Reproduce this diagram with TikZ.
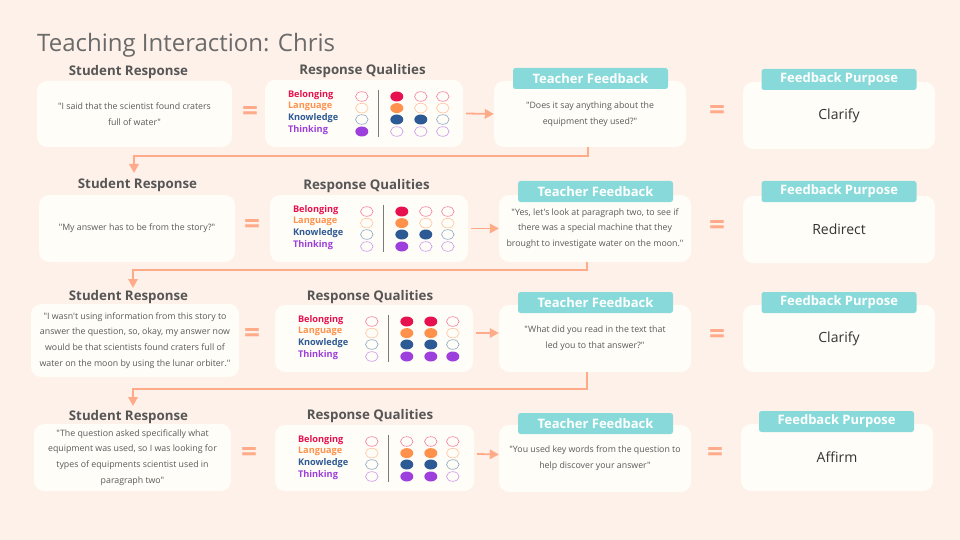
\documentclass[tikz,border=0pt]{standalone}
\usepackage{fontspec}
\setmainfont{Open Sans}[Ligatures=TeXOff]
\usetikzlibrary{arrows.meta,calc}
\definecolor{bgc}{HTML}{FEF1E9}
\definecolor{cardc}{HTML}{FFFDF7}
\definecolor{tealc}{HTML}{88DADA}
\definecolor{salmon}{HTML}{FFAB8A}
\definecolor{hdrc}{HTML}{565656}
\definecolor{txtc}{HTML}{5A5A5A}
\definecolor{titlec}{HTML}{6A6A6A}
\definecolor{darkc}{HTML}{333333}
\definecolor{divc}{HTML}{7A7A7A}
\definecolor{cB}{HTML}{E8114F}
\definecolor{cL}{HTML}{FF914D}
\definecolor{cK}{HTML}{2D5A94}
\definecolor{cT}{HTML}{9C3FDC}
\colorlet{qc1}{cB}\colorlet{qc2}{cL}\colorlet{qc3}{cK}\colorlet{qc4}{cT}
\tikzset{
  card/.style={fill=cardc, rounded corners=10pt, inner sep=3pt, align=center, text=txtc, font=\fontsize{8.8}{15.8}\selectfont},
  qcard/.style={fill=cardc, rounded corners=10pt, inner sep=0pt, minimum width=198pt, minimum height=67pt},
  tabbox/.style={fill=tealc, rounded corners=2.5pt, text=white, font=\bfseries\fontsize{13}{15}\selectfont, minimum width=155pt, minimum height=21pt, inner sep=0pt},
  hdr/.style={text=hdrc, font=\bfseries\fontsize{13.3}{15}\selectfont, inner sep=0pt},
  eqs/.style={text=salmon, font=\bfseries\fontsize{28}{28}\selectfont, inner sep=0pt},
  conn/.style={draw=salmon, line width=1.8pt, -{Triangle[width=9.5pt,length=9pt]}},
  purp/.style={text=darkc, font=\fontsize{14}{17}\selectfont},
  qlab/.style={font=\bfseries\fontsize{9.2}{10}\selectfont, anchor=west, inner sep=0pt},
}
\newcommand\qpanel[2]{%
  \begin{scope}[shift={(#1.north west)}]
    \node[qlab,text=cB] (#1-b) at (23,15) {Belonging};
    \node[qlab,text=cL] (#1-l) at (23,26.5) {Language};
    \node[qlab,text=cK] (#1-k) at (23,38) {Knowledge};
    \node[qlab,text=cT] (#1-t) at (23,50) {Thinking};
    \draw[divc, line width=0.8pt] (114,10) -- (114,57);
    \foreach \col [count=\ci] in {#2} {
      \foreach \f [count=\ri] in \col {
        \pgfmathsetmacro\xx{{97,132,156,178}[\ci-1]}
        \pgfmathsetmacro\yy{{16.7,28.3,39.7,51.7}[\ri-1]}
        \ifnum\f=1 \fill[qc\ri] (\xx,\yy) ellipse[x radius=6.5pt, y radius=5pt];
        \else \draw[qc\ri!55, line width=0.6pt] (\xx,\yy) ellipse[x radius=6.3pt, y radius=4.8pt];\fi
      }
    }
  \end{scope}}
\begin{document}
\begin{tikzpicture}[x=1pt,y=-1pt]
\fill[bgc] (0,0) rectangle (960,540);
\useasboundingbox (0,0) rectangle (960,540);
\node[anchor=base west, text=titlec, font=\fontsize{24}{28}\selectfont, inner sep=0pt] (title) at (37,52) {Teaching Interaction: Chris};

% ---------- Row 1
\node[hdr] (h1) at (128.5,72) {Student Response};
\node[card, minimum width=195pt, minimum height=66pt] (s1) at (134.5,114) {"I said that the scientist found craters\\full of water"};
\node[eqs] (e1) at (250,114) {=};
\node[hdr] (qh1) at (362.5,71) {Response Qualities};
\node[qcard] (q1) at (364,113.5) {};
\qpanel{q1}{{0,0,0,1},{1,1,1,0},{0,0,1,0},{0,0,0,0}}
\node[card, minimum width=192pt, minimum height=66pt] (t1) at (590,114) {"Does it say anything about the\\equipment they used?"};
\node[tabbox] (tt1) at (590.5,78.5) {Teacher Feedback};
\node[eqs] (f1) at (717,113) {=};
\node[card, purp, minimum width=192pt, minimum height=67pt] (p1) at (839,115.5) {Clarify};
\node[tabbox] (pt1) at (839,79.5) {Feedback Purpose};

% ---------- Row 2
\node[hdr] (h2) at (137.5,185.5) {Student Response};
\node[card, minimum width=196pt, minimum height=67pt] (s2) at (137,228.5) {"My answer has to be from the story?"};
\node[eqs] (e2) at (252,226) {=};
\node[hdr] (qh2) at (366.5,186) {Response Qualities};
\node[qcard] (q2) at (369,228.5) {};
\qpanel{q2}{{0,0,0,0},{1,1,1,1},{0,0,1,0},{0,0,0,0}}
\node[card, minimum width=192pt, minimum height=67pt] (t2) at (595,228.5) {"Yes, let's look at paragraph two, to see if\\there was a special machine that they\\brought to investigate water on the moon."};
\node[tabbox] (tt2) at (595.5,191.5) {Teacher Feedback};
\node[eqs] (f2) at (717,227) {=};
\node[card, purp, minimum width=192pt, minimum height=67pt] (p2) at (839,229.5) {Redirect};
\node[tabbox] (pt2) at (839,191.5) {Feedback Purpose};

% ---------- Row 3
\node[hdr] (h3) at (128.5,297) {Student Response};
\node[card, minimum width=208pt, minimum height=73pt] (s3) at (135,340.5) {"I wasn't using information from this story to\\answer the question, so, okay, my answer now\\would be that scientists found craters full of\\water on the moon by using the lunar orbiter."};
\node[eqs] (e3) at (252,335) {=};
\node[hdr] (qh3) at (370,297) {Response Qualities};
\node[qcard] (q3) at (374,338.5) {};
\qpanel{q3}{{0,0,0,0},{1,1,1,1},{1,1,1,1},{0,0,0,1}}
\node[card, minimum width=192pt, minimum height=67pt] (t3) at (595,338.5) {"What did you read in the text that\\led you to that answer?"};
\node[tabbox] (tt3) at (595.5,302.5) {Teacher Feedback};
\node[eqs] (f3) at (717,336) {=};
\node[card, purp, minimum width=192pt, minimum height=67pt] (p3) at (839,338.5) {Clarify};
\node[tabbox] (pt3) at (839,302.5) {Feedback Purpose};

% ---------- Row 4
\node[hdr] (h4) at (128.5,417) {Student Response};
\node[card, minimum width=197pt, minimum height=67pt] (s4) at (132.5,457.5) {"The question asked specifically what\\equipment was used, so I was looking for\\types of equipments scientist used in\\paragraph two"};
\node[eqs] (e4) at (249,454) {=};
\node[hdr] (qh4) at (370,416) {Response Qualities};
\node[qcard, minimum width=199pt, minimum height=66pt] (q4) at (374.5,458) {};
\qpanel{q4}{{0,0,0,0},{0,1,1,1},{0,1,1,1},{0,0,0,0}}
\node[card, minimum width=192pt, minimum height=67pt] (t4) at (595,458.5) {"You used key words from the question to\\help discover your answer"};
\node[tabbox] (tt4) at (595.5,423.5) {Teacher Feedback};
\node[eqs] (f4) at (715,454) {=};
\node[card, purp, minimum width=192pt, minimum height=67pt] (p4) at (837,457.5) {Affirm};
\node[tabbox] (pt4) at (836.5,421.5) {Feedback Purpose};

% ---------- connectors within rows
\draw[conn] ([xshift=3pt]q1.east) -- (t1.west);
\draw[conn] ([xshift=3pt]q2.east) -- (t2.west);
\draw[conn] ([xshift=3pt,yshift=5.5pt]q3.east) -- ([yshift=5.5pt]t3.west);
\draw[conn] ([xshift=3pt,yshift=4pt]q4.east) -- ([yshift=4pt]t4.west);

% ---------- connectors between rows
\coordinate (k1) at (134,156);
\coordinate (a1) at (134,173);
\draw[conn] ([xshift=-2pt]t1.south) |- (k1) -- (a1);
\coordinate (k2) at (133,270);
\coordinate (a2) at (133,288);
\draw[conn] ([xshift=-8pt]t2.south) |- (k2) -- (a2);
\coordinate (k3) at (133,389);
\coordinate (a3) at (133,406);
\draw[conn] ([xshift=-8pt]t3.south) |- (k3) -- (a3);
\end{tikzpicture}
\end{document}
